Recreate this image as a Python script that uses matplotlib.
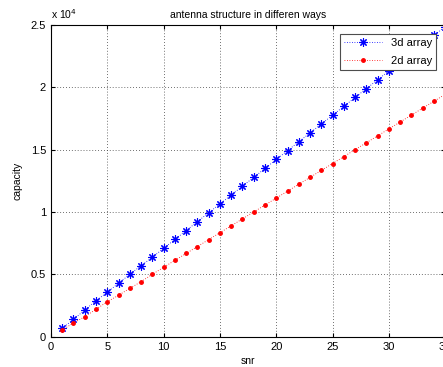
import matplotlib.pyplot as plt
from matplotlib.ticker import FuncFormatter

plt.rcParams['font.family'] = ['Liberation Sans', 'DejaVu Sans']

# snr values and capacities
snr = list(range(1, 36))
cap_3d = [670, 1380, 2140, 2880, 3560, 4280, 5000, 5690, 6360, 7080,
          7790, 8500, 9220, 9930, 10640, 11350, 12060, 12770, 13480, 14200,
          14910, 15620, 16330, 17040, 17750, 18460, 19170, 19880, 20590, 21300,
          22010, 22720, 23430, 24140, 24850]
cap_2d = [537, 1098, 1603, 2196, 2804, 3317, 3878, 4407, 5000, 5561,
          6115, 6670, 7224, 7779, 8333, 8888, 9442, 9997, 10551, 11106,
          11660, 12215, 12769, 13324, 13878, 14433, 14987, 15542, 16096, 16651,
          17205, 17760, 18314, 18869, 19423]

fig = plt.figure(figsize=(4.43, 3.67), dpi=100)
ax = fig.add_axes([0.115, 0.0826, 0.890, 0.850])

ax.plot(snr, cap_3d, color='blue', lw=0.6, linestyle=(0, (1, 2)),
        marker=(8, 2, 0), markersize=6, markeredgewidth=0.8, label='3d array')
ax.plot(snr, cap_2d, color='red', lw=0.6, linestyle=(0, (1, 2)),
        marker='.', markersize=5, label='2d array')

ax.set_xlim(0, 35)
ax.set_ylim(0, 25000)
ax.set_xticks([0, 5, 10, 15, 20, 25, 30, 35])
ax.set_yticks([0, 5000, 10000, 15000, 20000, 25000])
ax.yaxis.set_major_formatter(FuncFormatter(lambda v, p: '%g' % (v / 1e4)))
ax.text(0.0, 1.012, r'x 10$^4$', transform=ax.transAxes, fontsize=7.5,
        ha='left', va='bottom')

ax.grid(True, linestyle=(0, (1, 2.5)), color='0.25', linewidth=0.6)
ax.tick_params(direction='in', top=True, right=True, labelsize=8, length=3)
for s in ax.spines.values():
    s.set_linewidth(0.8)

ax.set_title('antenna structure in differen ways', fontsize=7.5, pad=5)
ax.set_xlabel('snr', fontsize=7.5, labelpad=3)
ax.set_ylabel('capacity', fontsize=7.5, labelpad=6)

leg = ax.legend(loc='upper right', fontsize=8, fancybox=False,
                edgecolor='0.3', framealpha=1, borderaxespad=0.8,
                handlelength=3.4, labelspacing=0.7)
leg.get_frame().set_linewidth(0.8)

plt.savefig('out.png', dpi=100)
